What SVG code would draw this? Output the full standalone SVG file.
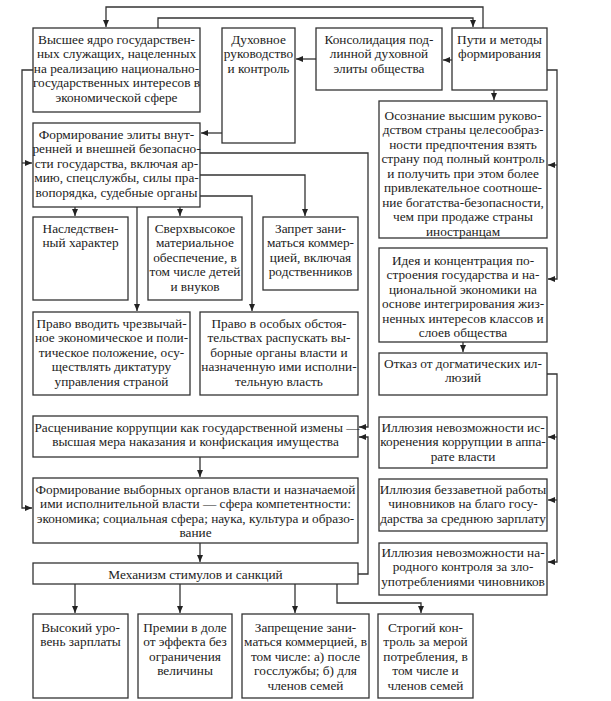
<svg xmlns="http://www.w3.org/2000/svg" width="611" height="701" viewBox="0 0 611 701">
<style>
.b{fill:#fff;stroke:#333;stroke-width:1.3}
.c{fill:none;stroke:#333;stroke-width:1.3}
text{font-family:"Liberation Serif","Times New Roman",serif;font-size:13.3px;fill:#222;text-anchor:middle}
</style>
<defs>
<marker id="a" markerUnits="userSpaceOnUse" markerWidth="8" markerHeight="6" refX="7" refY="3" orient="auto"><path d="M0,0 L7,3 L0,6 z" fill="#222"/></marker>
</defs>
<rect width="611" height="701" fill="#fff"/>
<g id="connectors" marker-end="url(#a)">
<path class="c" d="M483,28 V7 H106 V27"/>
<path class="c" d="M158,28 V18 H473 V27"/>
<path class="c" d="M316,59 H296"/>
<path class="c" d="M452,60 H443"/>
<path class="c" d="M494,90 V100"/>
<path class="c" d="M547,70 H557 V279 H548"/>
<path class="c" d="M557,165 H548"/>
<path class="c" d="M463,342 V352"/>
<path class="c" d="M547,374 H557 V562 H548"/>
<path class="c" d="M557,437 H548"/>
<path class="c" d="M557,500 H548"/>
<path class="c" d="M33,70 H22 V508 H32"/>
<path class="c" d="M22,163 H32"/>
<path class="c" d="M222,133 H201"/>
<path class="c" d="M200,153 H368 V427 H359"/>
<path class="c" d="M200,175 H305 V216"/>
<path class="c" d="M200,196 H252 V311"/>
<path class="c" d="M75,207 V216"/>
<path class="c" d="M180,207 V216"/>
<path class="c" d="M137,207 V311"/>
<path class="c" d="M358,574 H368 V437 H359"/>
<path class="c" d="M200,457 V477"/>
<path class="c" d="M200,543 V562"/>
<path class="c" d="M75,584 V613"/>
<path class="c" d="M180,584 V613"/>
<path class="c" d="M295,584 V613"/>
<path class="c" d="M337,584 V603 H421 V613"/>
</g>
<g id="n1"><rect class="b" x="33" y="28" width="167" height="84"/>
<text><tspan x="116.5" y="43.5">Высшее ядро государствен-</tspan><tspan x="116.5" y="58">ных служащих, нацеленных</tspan><tspan x="116.5" y="72.5">на реализацию национально-</tspan><tspan x="116.5" y="87">государственных интересов в</tspan><tspan x="116.5" y="101.5">экономической сфере</tspan></text></g>
<g id="n2"><rect class="b" x="222" y="28" width="73" height="115"/>
<text><tspan x="258.5" y="43.5">Духовное</tspan><tspan x="258.5" y="58">руководство</tspan><tspan x="258.5" y="72.5">и контроль</tspan></text></g>
<g id="n3"><rect class="b" x="316" y="28" width="126" height="62"/>
<text><tspan x="379" y="43.5">Консолидация под-</tspan><tspan x="379" y="58">линной духовной</tspan><tspan x="379" y="72.5">элиты общества</tspan></text></g>
<g id="n4"><rect class="b" x="452" y="28" width="95" height="62"/>
<text><tspan x="499.5" y="43.5">Пути и методы</tspan><tspan x="499.5" y="58">формирования</tspan></text></g>
<g id="n5"><rect class="b" x="379" y="101" width="168" height="137"/>
<text><tspan x="463" y="119.5">Осознание высшим руково-</tspan><tspan x="463" y="134">дством страны целесообраз-</tspan><tspan x="463" y="148.5">ности предпочтения взять</tspan><tspan x="463" y="163">страну под полный контроль</tspan><tspan x="463" y="177.5">и получить при этом более</tspan><tspan x="463" y="192">привлекательное соотноше-</tspan><tspan x="463" y="206.5">ние богатства-безопасности,</tspan><tspan x="463" y="221">чем при продаже страны</tspan><tspan x="463" y="235.5">иностранцам</tspan></text></g>
<g id="n6"><rect class="b" x="379" y="248" width="168" height="94"/>
<text><tspan x="463" y="264.5">Идея и концентрация по-</tspan><tspan x="463" y="279">строения государства и на-</tspan><tspan x="463" y="293.5">циональной экономики на</tspan><tspan x="463" y="308">основе интегрирования жиз-</tspan><tspan x="463" y="322.5">ненных интересов классов и</tspan><tspan x="463" y="337">слоев общества</tspan></text></g>
<g id="n7"><rect class="b" x="379" y="353" width="168" height="42"/>
<text><tspan x="463" y="367.5">Отказ от догматических ил-</tspan><tspan x="463" y="382">люзий</tspan></text></g>
<g id="n8"><rect class="b" x="379" y="417" width="168" height="51"/>
<text><tspan x="463" y="431.5">Иллюзия невозможности ис-</tspan><tspan x="463" y="446">коренения коррупции в аппа-</tspan><tspan x="463" y="460.5">рате власти</tspan></text></g>
<g id="n9"><rect class="b" x="379" y="479" width="168" height="52"/>
<text><tspan x="463" y="493.5">Иллюзия беззаветной работы</tspan><tspan x="463" y="508">чиновников на благо госу-</tspan><tspan x="463" y="522.5">дарства за среднюю зарплату</tspan></text></g>
<g id="n10"><rect class="b" x="379" y="543" width="168" height="52"/>
<text><tspan x="463" y="556.5">Иллюзия невозможности на-</tspan><tspan x="463" y="571">родного контроля за зло-</tspan><tspan x="463" y="585.5">употреблениями чиновников</tspan></text></g>
<g id="n11"><rect class="b" x="33" y="123" width="167" height="84"/>
<text><tspan x="116.5" y="138.5">Формирование элиты внут-</tspan><tspan x="116.5" y="153">ренней и внешней безопасно-</tspan><tspan x="116.5" y="167.5">сти государства, включая ар-</tspan><tspan x="116.5" y="182">мию, спецслужбы, силы пра-</tspan><tspan x="116.5" y="196.5">вопорядка, судебные органы</tspan></text></g>
<g id="n12"><rect class="b" x="33" y="217" width="95" height="83"/>
<text><tspan x="80.5" y="232.5">Наследствен-</tspan><tspan x="80.5" y="247">ный характер</tspan></text></g>
<g id="n13"><rect class="b" x="148" y="217" width="94" height="83"/>
<text><tspan x="195" y="232.5">Сверхвысокое</tspan><tspan x="195" y="247">материальное</tspan><tspan x="195" y="261.5">обеспечение, в</tspan><tspan x="195" y="276">том числе детей</tspan><tspan x="195" y="290.5">и внуков</tspan></text></g>
<g id="n14"><rect class="b" x="263" y="217" width="95" height="73"/>
<text><tspan x="310.5" y="232.5">Запрет зани-</tspan><tspan x="310.5" y="247">маться коммер-</tspan><tspan x="310.5" y="261.5">цией, включая</tspan><tspan x="310.5" y="276">родственников</tspan></text></g>
<g id="n15"><rect class="b" x="33" y="312" width="157" height="83"/>
<text><tspan x="111.5" y="327.5">Право вводить чрезвычай-</tspan><tspan x="111.5" y="342">ное экономическое и поли-</tspan><tspan x="111.5" y="356.5">тическое положение, осу-</tspan><tspan x="111.5" y="371">ществлять диктатуру</tspan><tspan x="111.5" y="385.5">управления страной</tspan></text></g>
<g id="n16"><rect class="b" x="200" y="312" width="158" height="83"/>
<text><tspan x="279" y="327.5">Право в особых обстоя-</tspan><tspan x="279" y="342">тельствах распускать вы-</tspan><tspan x="279" y="356.5">борные органы власти и</tspan><tspan x="279" y="371">назначенную ими исполни-</tspan><tspan x="279" y="385.5">тельную власть</tspan></text></g>
<g id="n17"><rect class="b" x="33" y="416" width="325" height="41"/>
<text><tspan x="197" y="431.5">Расценивание коррупции как государственной измены —</tspan><tspan x="195.5" y="446">высшая мера наказания и конфискация имущества</tspan></text></g>
<g id="n18"><rect class="b" x="33" y="478" width="325" height="65"/>
<text><tspan x="195.5" y="493.5">Формирование выборных органов власти и назначаемой</tspan><tspan x="195.5" y="508">ими исполнительной власти — сфера компетентности:</tspan><tspan x="195.5" y="522.5">экономика; социальная сфера; наука, культура и образо-</tspan><tspan x="195.5" y="537">вание</tspan></text></g>
<g id="n19"><rect class="b" x="33" y="563" width="325" height="21"/>
<text x="195.5" y="578.5">Механизм стимулов и санкций</text></g>
<g id="n20"><rect class="b" x="33" y="614" width="95" height="84"/>
<text><tspan x="80.5" y="631.5">Высокий уро-</tspan><tspan x="80.5" y="646">вень зарплаты</tspan></text></g>
<g id="n21"><rect class="b" x="138" y="614" width="94" height="84"/>
<text><tspan x="185" y="631.5">Премии в доле</tspan><tspan x="185" y="646">от эффекта без</tspan><tspan x="185" y="660.5">ограничения</tspan><tspan x="185" y="675">величины</tspan></text></g>
<g id="n22"><rect class="b" x="242" y="614" width="127" height="84"/>
<text><tspan x="305.5" y="631.5">Запрещение зани-</tspan><tspan x="305.5" y="646">маться коммерцией, в</tspan><tspan x="305.5" y="660.5">том числе: а) после</tspan><tspan x="305.5" y="675">госслужбы; б) для</tspan><tspan x="305.5" y="689.5">членов семей</tspan></text></g>
<g id="n23"><rect class="b" x="378" y="614" width="95" height="84"/>
<text><tspan x="425.5" y="631.5">Строгий кон-</tspan><tspan x="425.5" y="646">троль за мерой</tspan><tspan x="425.5" y="660.5">потребления, в</tspan><tspan x="425.5" y="675">том числе и</tspan><tspan x="425.5" y="689.5">членов семей</tspan></text></g>
</svg>
